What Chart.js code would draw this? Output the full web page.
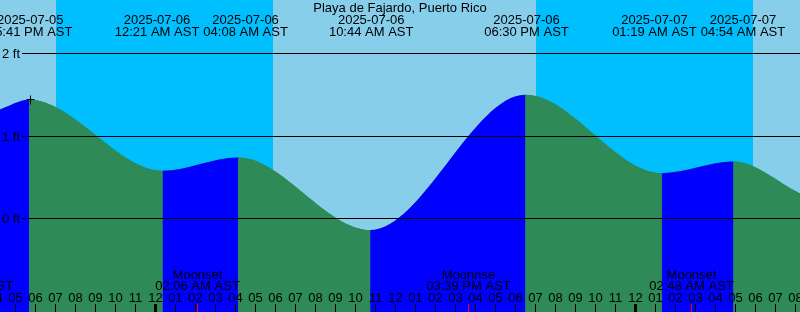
<!DOCTYPE html>
<html>
<head>
<meta charset="utf-8">
<script src="https://cdn.jsdelivr.net/npm/chart.js@4.4.1/dist/chart.umd.min.js"></script>
<style>
  html, body { margin: 0; padding: 0; background: #87ceeb; }
  #tide { display: block; }
</style>
</head>
<body>
<canvas id="tide" width="800" height="312"></canvas>
<script>
// station
const stationName = 'Playa de Fajardo, Puerto Rico';

// tide curve points (first and last are just the chart edges)
const tideTimes   = ['2025-07-05 16:12', '2025-07-05 17:41', '2025-07-06 00:21', '2025-07-06 04:08',
                     '2025-07-06 10:44', '2025-07-06 18:30', '2025-07-07 01:19', '2025-07-07 04:54',
                     '2025-07-07 08:15'];
const tideHeights = [1.32, 1.44, 0.58, 0.74, -0.14, 1.50, 0.55, 0.69, 0.30];
const tideIsEvent = [false, true, true, true, true, true, true, true, false];

// night = sunset -> sunrise
const sunsetTimes  = ['2025-07-05 19:01', '2025-07-06 19:01'];
const sunriseTimes = ['2025-07-06 05:52', '2025-07-07 05:52'];

// moon events
const moonTimes  = ['2025-07-05 14:46', '2025-07-06 02:06', '2025-07-06 15:39', '2025-07-07 02:48'];
const moonEvents = ['Moonrise', 'Moonset', 'Moonrise', 'Moonset'];

// height grid lines
const datumLines = [0, 1, 2];

const FONT = '13px "Liberation Sans", Arial, sans-serif';
const DAY = '#87ceeb', NIGHT = '#00bfff', FLOOD = '#0000ff', EBB = '#2e8b57';

// hours relative to 2025-07-06 00:00
function toHours(s) {
    const [d, t] = s.split(' ');
    const day = Number(d.slice(8)) - 6;
    const [h, m] = t.split(':').map(Number);
    return day * 24 + h + m / 60;
}

function timeLabel(s) {
    const [h, m] = s.split(' ')[1].split(':').map(Number);
    const h12 = (h + 11) % 12 + 1;
    return String(h12).padStart(2, '0') + ':' + String(m).padStart(2, '0') + (h < 12 ? ' AM AST' : ' PM AST');
}

const points = tideTimes.map((t, i) => ({ x: toHours(t), y: tideHeights[i] }));

// day / night background
const backgroundPlugin = {
    id: 'dayNight',
    beforeDatasetsDraw(chart) {
        const { ctx, scales: { x } } = chart;
        ctx.save();
        ctx.fillStyle = DAY;
        ctx.fillRect(0, 0, chart.width, chart.height);
        ctx.fillStyle = NIGHT;
        sunsetTimes.forEach((s, i) => {
            const x0 = Math.round(x.getPixelForValue(toHours(s)));
            const x1 = Math.round(x.getPixelForValue(toHours(sunriseTimes[i])));
            ctx.fillRect(x0, 0, x1 - x0, chart.height);
        });
        ctx.restore();
    }
};

// spread overlapping labels apart
function spreadLabels(items, width, gap) {
    for (let i = 1; i < items.length; i++) {
        const need = width + gap;
        const d = items[i].cx - items[i - 1].cx;
        if (d < need) {
            const push = (need - d) / 2;
            items[i - 1].cx -= push;
            items[i].cx += push;
        }
    }
    return items;
}

const overlayPlugin = {
    id: 'overlay',
    afterDatasetsDraw(chart) {
        const { ctx, scales: { x, y } } = chart;
        ctx.save();
        ctx.font = FONT;
        ctx.fillStyle = '#000';
        ctx.strokeStyle = '#000';
        ctx.lineWidth = 1;

        // datum lines with labels
        datumLines.forEach(v => {
            const py = Math.floor(y.getPixelForValue(v)) + 0.5;
            ctx.beginPath();
            ctx.moveTo(22, py);
            ctx.lineTo(chart.width, py);
            ctx.stroke();
            ctx.textAlign = 'left';
            ctx.textBaseline = 'alphabetic';
            ctx.fillText(v + ' ft', 2, py + 4);
        });

        // marker on first high
        const hx = Math.round(x.getPixelForValue(points[1].x)) + 1.5;
        const hy = Math.round(y.getPixelForValue(points[1].y)) - 0.5;
        ctx.beginPath();
        ctx.moveTo(hx - 4, hy); ctx.lineTo(hx + 4, hy);
        ctx.moveTo(hx, hy - 4); ctx.lineTo(hx, hy + 5);
        ctx.stroke();

        // title
        ctx.textAlign = 'center';
        ctx.fillText(stationName, 400, 12);

        // tide event labels
        const labelW = ctx.measureText('00:00 AM AST').width;
        const items = [];
        tideTimes.forEach((t, i) => {
            if (!tideIsEvent[i]) return;
            items.push({ cx: x.getPixelForValue(toHours(t)) + 1, date: t.split(' ')[0], time: timeLabel(t) });
        });
        spreadLabels(items, labelW, 4).forEach(it => {
            ctx.fillText(it.date, it.cx, 23.5);
            ctx.fillText(it.time, it.cx, 35.5);
        });

        // moon labels
        moonTimes.forEach((t, i) => {
            const mx = x.getPixelForValue(toHours(t));
            ctx.fillText(moonEvents[i], mx, 278.5);
            ctx.fillText(timeLabel(t), mx, 289.5);
        });

        // hour labels and ticks
        for (let h = Math.floor(x.min); h <= Math.ceil(x.max); h++) {
            const px = Math.floor(x.getPixelForValue(h));
            const hr = ((h % 24) + 24) % 24;
            const lbl = String((hr + 11) % 12 + 1).padStart(2, '0');
            ctx.fillText(lbl, px + 0.5, 302);
            if (hr === 0) ctx.fillRect(px - 1, 304, 3, 8);
            else ctx.fillRect(px, 304, 1, 8);
        }
        ctx.fillStyle = '#ff0000';
        moonTimes.forEach(t => {
            const px = Math.floor(x.getPixelForValue(toHours(t)));
            ctx.fillRect(px, 304, 1, 8);
        });
        ctx.restore();
    }
};

const curveStyle = {
    data: points,
    fill: 'start',
    borderWidth: 0,
    borderColor: 'rgba(0,0,0,0)',
    pointRadius: 0,
    cubicInterpolationMode: 'monotone'
};

new Chart(document.getElementById('tide'), {
    type: 'line',
    data: {
        datasets: [
            // rising / falling fill
            Object.assign({}, curveStyle, {
                order: 1,
                backgroundColor: EBB,
                segment: {
                    backgroundColor: c => c.p1.parsed.y > c.p0.parsed.y ? FLOOD : EBB
                }
            }),
            // plain underlay so the segment joins leave no light seams
            Object.assign({}, curveStyle, { order: 2, backgroundColor: EBB })
        ]
    },
    options: {
        responsive: false,
        animation: false,
        devicePixelRatio: 1,
        layout: { padding: 0 },
        events: [],
        plugins: { legend: { display: false }, tooltip: { enabled: false } },
        scales: {
            x: { type: 'linear', display: false, min: -7.775, max: 32.225 },
            y: { display: false, min: -1.1333, max: 2.6485 }
        }
    },
    plugins: [backgroundPlugin, overlayPlugin]
});
</script>
</body>
</html>
